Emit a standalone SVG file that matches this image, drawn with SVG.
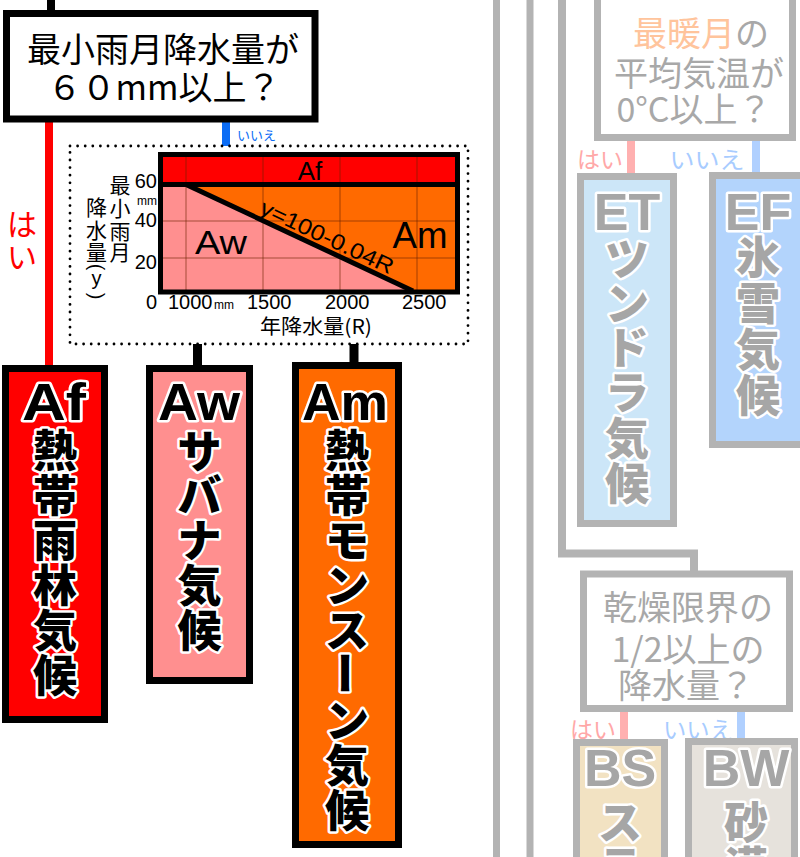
<svg xmlns="http://www.w3.org/2000/svg" width="800" height="857" viewBox="0 0 800 857">
<style>
.q{font-family:"Noto Sans CJK JP","Noto Sans",sans-serif;font-size:34px;text-anchor:middle;dominant-baseline:central}
.qg{fill:#a8a8a8}
.lat{font-family:"Liberation Sans","Noto Sans CJK JP",sans-serif;font-weight:bold;font-size:52px;text-anchor:middle;paint-order:stroke;stroke:#fff;stroke-width:5;stroke-linejoin:round}
.ch{font-family:"Noto Sans CJK JP",sans-serif;font-weight:900;font-size:44px;text-anchor:middle;dominant-baseline:central;paint-order:stroke;stroke:#fff;stroke-width:5;stroke-linejoin:round}
.k{fill:#000}
.g{fill:#a6a6a6}
.ax{font-family:"Liberation Sans","Noto Sans CJK JP",sans-serif;font-size:20px;fill:#000}
.yl{font-family:"Noto Sans CJK JP",sans-serif;font-size:21px;text-anchor:middle;dominant-baseline:central;fill:#000}
.yn{font-family:"Noto Sans CJK JP",sans-serif;font-size:23px;text-anchor:middle;dominant-baseline:central}
.box{stroke-width:7}
.gl{stroke:#b3b3b3;stroke-width:7;fill:none}
.grid{stroke:#6a2000;stroke-opacity:0.3;stroke-width:2}
</style>

<g id="connectors" fill="none">
  <line x1="51" y1="0" x2="51" y2="13" stroke="#000" stroke-width="8"/>
  <line x1="49" y1="119" x2="49" y2="368" stroke="#ff0000" stroke-width="8"/>
  <line x1="226" y1="119" x2="226" y2="146" stroke="#0a6cf5" stroke-width="8"/>
  <line x1="197.5" y1="344" x2="197.5" y2="367" stroke="#000" stroke-width="9"/>
  <line x1="354" y1="344" x2="354" y2="364" stroke="#000" stroke-width="9"/>
  <line class="gl" x1="496.5" y1="0" x2="496.5" y2="857"/>
  <line class="gl" x1="530" y1="0" x2="530" y2="857"/>
  <polyline class="gl" style="stroke-width:8" points="562,0 562,553.5 694,553.5 694,573"/>
  <line x1="631" y1="137" x2="631" y2="175" stroke="#ffb0b0" stroke-width="8"/>
  <line x1="756" y1="137" x2="756" y2="174" stroke="#b0d0ff" stroke-width="8"/>
  <line x1="624" y1="710" x2="624" y2="741" stroke="#ffb0b0" stroke-width="8"/>
  <line x1="741" y1="710" x2="741" y2="740" stroke="#b0d0ff" stroke-width="8"/>
  <text class="yn" fill="#ff0000" style="font-size:30px"><tspan x="22" y="222">は</tspan><tspan x="22" y="255">い</tspan></text>
  <text x="237" y="134" fill="#0a6cf5" style="font-family:'Noto Sans CJK JP',sans-serif;font-size:13px;dominant-baseline:central">いいえ</text>
  <text class="yn" x="600" y="158" fill="#ffa8a8">はい</text>
  <text class="yn" x="707" y="158" fill="#a8ccff" textLength="75" lengthAdjust="spacingAndGlyphs">いいえ</text>
  <text class="yn" x="593" y="728" fill="#ffa8a8">はい</text>
  <text class="yn" x="698" y="728" fill="#a8ccff" textLength="70" lengthAdjust="spacingAndGlyphs">いいえ</text>
</g>

<g id="q1">
  <rect class="box" x="6.5" y="13.5" width="308.5" height="105.5" fill="#fff" stroke="#000"/>
  <text class="q" x="163" y="47.5">最小雨月降水量が</text>
  <text class="q" x="164" y="85">６０mm以上？</text>
</g>

<g id="chart">
  <rect x="70" y="146" width="398" height="198" fill="#fff" stroke="#000" stroke-width="2.8" stroke-dasharray="0 7.6" stroke-linecap="round"/>
  <rect x="160.5" y="154.5" width="297" height="137.5" fill="#ff6a00"/>
  <rect x="160.5" y="154.5" width="297" height="30" fill="#ff0000"/>
  <polygon points="160.5,184.5 186,184.5 413,292 160.5,292" fill="#ff8f8f"/>
  <g class="grid">
    <line x1="186" y1="157" x2="186" y2="290"/>
    <line x1="263" y1="157" x2="263" y2="290"/>
    <line x1="340" y1="157" x2="340" y2="290"/>
    <line x1="417" y1="157" x2="417" y2="290"/>
    <line x1="163" y1="221" x2="455" y2="221"/>
    <line x1="163" y1="258" x2="455" y2="258"/>
  </g>
  <line x1="160.5" y1="184.5" x2="457.5" y2="184.5" stroke="#000" stroke-width="5"/>
  <line x1="186" y1="184.5" x2="413" y2="291" stroke="#000" stroke-width="5"/>
  <rect x="160.5" y="154.5" width="297" height="137.5" fill="none" stroke="#000" stroke-width="5"/>
  <text x="310" y="171" style="font-family:'Liberation Sans',sans-serif;font-size:26px;text-anchor:middle;dominant-baseline:central">Af</text>
  <text x="221" y="254" style="font-family:'Liberation Sans',sans-serif;font-size:33px;text-anchor:middle" textLength="52" lengthAdjust="spacingAndGlyphs">Aw</text>
  <text x="420" y="248" style="font-family:'Liberation Sans',sans-serif;font-size:36px;text-anchor:middle" textLength="55" lengthAdjust="spacingAndGlyphs">Am</text>
  <text transform="translate(327,237) rotate(25.1)" style="font-family:'Liberation Sans',sans-serif;font-size:22px;text-anchor:middle;dominant-baseline:central" textLength="145" lengthAdjust="spacingAndGlyphs">y=100-0.04R</text>
  <text class="ax" x="157" y="188" text-anchor="end">60</text>
  <text class="ax" x="157" y="205" text-anchor="end" style="font-size:12px">mm</text>
  <text class="ax" x="157" y="227" text-anchor="end">40</text>
  <text class="ax" x="157" y="269" text-anchor="end">20</text>
  <text class="ax" x="157" y="309" text-anchor="end">0</text>
  <text class="ax" x="168" y="309">1000</text>
  <text class="ax" x="214" y="309" style="font-size:12px">mm</text>
  <text class="ax" x="247" y="309">1500</text>
  <text class="ax" x="325" y="309">2000</text>
  <text class="ax" x="402" y="309">2500</text>
  <text class="ax" x="260" y="334" style="font-family:'Noto Sans CJK JP',sans-serif" textLength="112" lengthAdjust="spacingAndGlyphs">年降水量(R)</text>
  <text class="yl"><tspan x="120" y="184">最</tspan><tspan x="120" y="207">小</tspan><tspan x="120" y="230">雨</tspan><tspan x="120" y="251">月</tspan></text>
  <text class="yl"><tspan x="96.5" y="206">降</tspan><tspan x="96.5" y="229">水</tspan><tspan x="96.5" y="251">量</tspan></text>
  <text class="ax" transform="translate(96.5,267) rotate(90)" text-anchor="middle" dominant-baseline="central">(</text>
  <text class="ax" x="96.5" y="285" text-anchor="middle">y</text>
  <text class="ax" transform="translate(96.5,296) rotate(90)" text-anchor="middle" dominant-baseline="central">)</text>
</g>

<g id="af">
  <rect class="box" x="5.5" y="368.5" width="99" height="351" fill="#ff0000" stroke="#000"/>
  <text class="lat k" x="54" y="420" textLength="64" lengthAdjust="spacingAndGlyphs">Af</text>
  <text class="ch k"><tspan x="55" y="448">熱</tspan><tspan x="55" y="493">帯</tspan><tspan x="55" y="538">雨</tspan><tspan x="55" y="583">林</tspan><tspan x="55" y="628">気</tspan><tspan x="55" y="673">候</tspan></text>
</g>

<g id="aw">
  <rect class="box" x="149.5" y="368.5" width="100" height="312" fill="#ff8f8f" stroke="#000"/>
  <text class="lat k" x="199" y="420" textLength="82" lengthAdjust="spacingAndGlyphs">Aw</text>
  <text class="ch k"><tspan x="199.5" y="449">サ</tspan><tspan x="199.5" y="493">バ</tspan><tspan x="199.5" y="538">ナ</tspan><tspan x="199.5" y="583">気</tspan><tspan x="199.5" y="628">候</tspan></text>
</g>

<g id="am">
  <rect class="box" x="295.5" y="365.5" width="103" height="479" fill="#ff6a00" stroke="#000"/>
  <text class="lat k" x="345" y="420" textLength="86" lengthAdjust="spacingAndGlyphs">Am</text>
  <text class="ch k"><tspan x="347" y="448">熱</tspan><tspan x="347" y="493">帯</tspan><tspan x="347" y="538">モ</tspan><tspan x="347" y="583">ン</tspan><tspan x="347" y="628">ス</tspan></text>
  <text class="ch k" transform="translate(347,673) rotate(90)">ー</text>
  <text class="ch k"><tspan x="347" y="718">ン</tspan><tspan x="347" y="763">気</tspan><tspan x="347" y="808">候</tspan></text>
</g>

<g id="q2">
  <rect class="box" x="597.5" y="-5" width="195" height="142.5" fill="#fff" stroke="#b3b3b3"/>
  <text class="q qg" x="701" y="31"><tspan fill="#ffc49c">最暖月</tspan>の</text>
  <text class="q qg" x="699" y="71">平均気温が</text>
  <text class="q qg" x="694" y="107">0°C以上？</text>
</g>

<g id="et">
  <rect class="box" x="580.5" y="176.5" width="93" height="347" fill="#cce6f8" stroke="#b3b3b3"/>
  <text class="lat g" x="627" y="230">ET</text>
  <text class="ch g"><tspan x="627" y="257">ツ</tspan><tspan x="627" y="301">ン</tspan><tspan x="627" y="345">ド</tspan><tspan x="627" y="390">ラ</tspan><tspan x="627" y="436">気</tspan><tspan x="627" y="481">候</tspan></text>
</g>

<g id="ef">
  <rect class="box" x="712.5" y="175.5" width="95" height="269" fill="#b3d4fc" stroke="#b3b3b3"/>
  <text class="lat g" x="758" y="230">EF</text>
  <text class="ch g"><tspan x="758" y="255">氷</tspan><tspan x="758" y="301">雪</tspan><tspan x="758" y="347">気</tspan><tspan x="758" y="393">候</tspan></text>
</g>

<g id="q3">
  <rect class="box" x="583.5" y="574" width="206" height="134.5" fill="#fff" stroke="#b3b3b3"/>
  <text class="q qg" x="688" y="605">乾燥限界の</text>
  <text class="q qg" x="688" y="647">1/2以上の</text>
  <text class="q qg" x="686" y="683">降水量？</text>
</g>

<g id="bs">
  <rect class="box" x="576.5" y="742.5" width="88" height="200" fill="#f2e2c2" stroke="#b3b3b3"/>
  <text class="lat g" x="620" y="786">BS</text>
  <text class="ch g"><tspan x="620" y="820">ス</tspan><tspan x="620" y="865">テ</tspan></text>
</g>

<g id="bw">
  <rect class="box" x="688.5" y="741.5" width="106" height="200" fill="#e6e2dc" stroke="#b3b3b3"/>
  <text class="lat g" x="746" y="786">BW</text>
  <text class="ch g"><tspan x="746" y="820">砂</tspan><tspan x="746" y="865">漠</tspan></text>
</g>
</svg>
